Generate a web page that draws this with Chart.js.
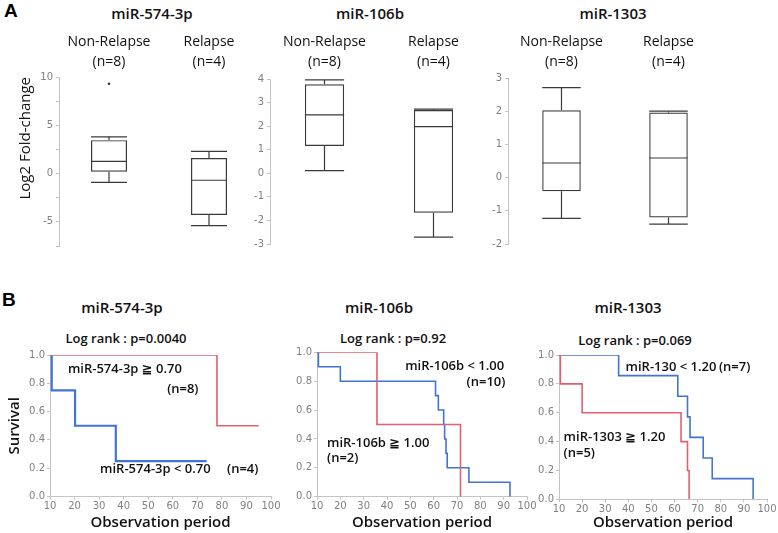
<!DOCTYPE html>
<html lang="en">
<head>
<meta charset="UTF-8">
<title>miRNA fold-change and survival</title>
<style>
  body { margin: 0; background: #fff; font-family: 'Open Sans', sans-serif; }
  #page { position: relative; width: 778px; height: 533px; overflow: hidden; }
  canvas { position: absolute; }
  .t { position: absolute; white-space: nowrap; color: #111; transform: translate(-50%, -50%); }
  .title { font-size: 15px; font-weight: 600; }
  .logrank { font-size: 13px; font-weight: 600; }
  .letter { position: absolute; font-family: Arial, sans-serif; font-weight: bold; font-size: 19px; color: #000; }
</style>
</head>
<body>
<div id="page">
  <div class="letter" style="left:4px; top:0px;">A</div>
  <div class="letter" style="left:2px; top:289px;">B</div>

  <div class="t title" style="left:152px; top:13px;">miR-574-3p</div>
  <div class="t title" style="left:370px; top:13px;">miR-106b</div>
  <div class="t title" style="left:613px; top:13px;">miR-1303</div>

  <div class="t title" style="left:122px; top:307px;">miR-574-3p</div>
  <div class="t title" style="left:379px; top:307px;">miR-106b</div>
  <div class="t title" style="left:628px; top:307px;">miR-1303</div>

  <div class="t logrank" style="left:126px; top:338px;">Log rank : p=0.0040</div>
  <div class="t logrank" style="left:393px; top:338px;">Log rank : p=0.92</div>
  <div class="t logrank" style="left:635px; top:340px;">Log rank : p=0.069</div>

  <canvas id="box574" width="262" height="255" style="left:0px; top:0px;"></canvas>
  <canvas id="box106" width="243" height="253" style="left:250px; top:0px;"></canvas>
  <canvas id="box1303" width="239" height="253" style="left:488px; top:0px;"></canvas>

  <canvas id="km574" width="283" height="248" style="left:0px; top:285px;"></canvas>
  <canvas id="km106" width="264" height="248" style="left:275px; top:285px;"></canvas>
  <canvas id="km1303" width="258" height="248" style="left:520px; top:285px;"></canvas>
</div>

<script src="https://cdn.jsdelivr.net/npm/chart.js"></script>
<script>
// box plot groups
const groupNames = ['Non-Relapse', 'Relapse'];
const groupCounts = ['(n=8)', '(n=4)'];

// miR-574-3p log2 fold-change
const m574Min = [-0.92, -5.4];
const m574Q1 = [0.19, -4.29];
const m574Med = [1.27, -0.69];
const m574Q3 = [3.46, 1.61];
const m574Max = [3.8, 2.29];
const m574Out = [[9.3], []];

// miR-106b
const m106Min = [0.11, -2.71];
const m106Q1 = [1.16, -1.67];
const m106Med = [2.48, 1.98];
const m106Q3 = [3.78, 2.68];
const m106Max = [3.96, 2.72];
const m106Out = [[], []];

// miR-1303
const m1303Min = [-1.23, -1.4];
const m1303Q1 = [-0.41, -1.2];
const m1303Med = [0.44, 0.59];
const m1303Q3 = [2.03, 1.96];
const m1303Max = [2.71, 2.0];
const m1303Out = [[], []];

// Kaplan-Meier curves (time of step, survival after it)
const km574HighT = [10, 78, 95];
const km574HighS = [1, 0.5, 0.5];
const km574LowT = [10, 10.7, 20.2, 36.8, 73.8];
const km574LowS = [1, 0.75, 0.5, 0.25, 0.25];

const km106HighT = [10, 35.7, 71.5];
const km106HighS = [1, 0.5, 0];
const km106LowT = [10, 10.6, 20, 60.8, 62, 64.3, 64.7, 65.3, 65.8, 75.1, 92.7];
const km106LowS = [1, 0.9, 0.8, 0.7, 0.6, 0.5, 0.4, 0.3, 0.2, 0.1, 0];

const km1303HighT = [10, 10.6, 20, 62.8, 65.6, 66.3];
const km1303HighS = [1, 0.8, 0.6, 0.4, 0.2, 0];
const km1303LowT = [10, 35.8, 61.4, 65.6, 66.7, 72.4, 76.3, 94];
const km1303LowS = [1, 0.857, 0.714, 0.571, 0.429, 0.286, 0.143, 0];

const RED = '#e0606f';
const BLUE = '#4275d3';
const AXIS = '#c4c4c4';
const TICK_TXT = '#808080';

Chart.defaults.font.family = "'Open Sans', sans-serif";

// whiskers, median and outliers on top of the floating box bars
const boxPlugin = {
  id: 'boxWhiskers',
  afterDatasetsDraw(chart) {
    const ds = chart.data.datasets[0];
    const y = chart.scales.y;
    const ctx = chart.ctx;
    const line = (x1, y1, x2, y2) => {
      ctx.beginPath(); ctx.moveTo(x1, y1); ctx.lineTo(x2, y2); ctx.stroke();
    };
    ctx.save();
    ctx.strokeStyle = '#3a3a3a';
    ctx.fillStyle = '#333';
    ctx.lineWidth = 1.2;
    chart.getDatasetMeta(0).data.forEach((bar, i) => {
      const h = bar.width / 2;
      const pMin = y.getPixelForValue(ds.whiskerMin[i]);
      const pMax = y.getPixelForValue(ds.whiskerMax[i]);
      const pQ1 = y.getPixelForValue(ds.data[i][0]);
      const pQ3 = y.getPixelForValue(ds.data[i][1]);
      const pMed = y.getPixelForValue(ds.median[i]);
      line(bar.x, pQ3, bar.x, pMax);
      line(bar.x - h, pMax, bar.x + h, pMax);
      line(bar.x, pQ1, bar.x, pMin);
      line(bar.x - h, pMin, bar.x + h, pMin);
      line(bar.x - h, pMed, bar.x + h, pMed);
      ds.outliers[i].forEach(v => {
        ctx.beginPath();
        ctx.arc(bar.x, y.getPixelForValue(v), 1.3, 0, Math.PI * 2);
        ctx.fill();
      });
    });
    ctx.restore();
  }
};

function makeBox(id, s, c) {
  return new Chart(document.getElementById(id), {
    type: 'bar',
    data: {
      labels: groupNames.map((g, i) => [g, groupCounts[i]]),
      datasets: [{
        data: s.q1.map((v, i) => [v, s.q3[i]]),
        whiskerMin: s.min,
        whiskerMax: s.max,
        median: s.med,
        outliers: s.out,
        backgroundColor: 'rgba(255,255,255,0)',
        borderColor: '#3a3a3a',
        borderWidth: 1.2,
        borderSkipped: false,
        barPercentage: 0.72,
        categoryPercentage: 0.5
      }]
    },
    options: {
      responsive: false,
      animation: false,
      events: [],
      layout: { padding: { top: 0, left: 0, right: c.padRight, bottom: 5 } },
      plugins: { legend: { display: false }, tooltip: { enabled: false } },
      scales: {
        x: {
          position: 'top',
          grid: { display: false, drawTicks: false },
          border: { display: false },
          ticks: {
            padding: c.labelPad, color: '#111', maxRotation: 0, autoSkip: false,
            font: { size: 14, lineHeight: '20px' }
          },
          afterFit: sc => { sc.height = c.top; }
        },
        y: {
          min: c.min, max: c.max,
          grid: { drawOnChartArea: false, color: AXIS, tickLength: 3 },
          border: { color: AXIS },
          ticks: {
            stepSize: c.step, padding: 3, color: TICK_TXT,
            font: { family: 'DejaVu Sans', size: 10 },
            callback: v => (Math.abs(v % c.labelEvery) < 1e-9 ? v : '')
          },
          title: c.yTitle ? {
            display: true, text: c.yTitle, align: 'end', color: '#111',
            font: { size: 15 }, padding: { top: 17, bottom: 0 }
          } : { display: false },
          afterFit: sc => { sc.width = c.yWidth; }
        }
      }
    },
    plugins: [boxPlugin]
  });
}

makeBox('box574',
  { min: m574Min, q1: m574Q1, med: m574Med, q3: m574Q3, max: m574Max, out: m574Out },
  { top: 77, labelPad: 5, padRight: 3, yWidth: 59, min: -7.5, max: 10, step: 2.5, labelEvery: 5, yTitle: 'Log2 Fold-change' });
makeBox('box106',
  { min: m106Min, q1: m106Q1, med: m106Med, q3: m106Q3, max: m106Max, out: m106Out },
  { top: 79, labelPad: 7, padRight: 5, yWidth: 20, min: -3, max: 4, step: 1, labelEvery: 1 });
makeBox('box1303',
  { min: m1303Min, q1: m1303Q1, med: m1303Med, q3: m1303Q3, max: m1303Max, out: m1303Out },
  { top: 78, labelPad: 6, padRight: 5, yWidth: 20, min: -2, max: 3, step: 1, labelEvery: 1 });

// text labels placed in data coordinates
function notesPlugin(notes) {
  return {
    id: 'notes',
    afterDatasetsDraw(chart) {
      const ctx = chart.ctx;
      ctx.save();
      ctx.font = "600 13px 'Open Sans', 'DejaVu Sans', sans-serif";
      ctx.fillStyle = '#111';
      ctx.textBaseline = 'middle';
      notes.forEach(n => {
        ctx.fillText(n.text, chart.scales.x.getPixelForValue(n.x), chart.scales.y.getPixelForValue(n.y));
      });
      ctx.restore();
    }
  };
}

const toPoints = (ts, ss) => ts.map((t, i) => ({ x: t, y: ss[i] }));

function makeKM(id, high, low, c) {
  return new Chart(document.getElementById(id), {
    type: 'line',
    data: {
      datasets: [
        { data: high, borderColor: RED, borderWidth: 1.6, stepped: 'before', pointRadius: 0, fill: false },
        { data: low, borderColor: BLUE, borderWidth: c.blueWidth, stepped: 'before', pointRadius: 0, fill: false }
      ]
    },
    options: {
      responsive: false,
      animation: false,
      events: [],
      layout: { padding: { top: c.top, left: 0, right: c.padRight, bottom: 0 } },
      plugins: { legend: { display: false }, tooltip: { enabled: false } },
      scales: {
        x: {
          type: 'linear', min: 10, max: 100,
          grid: { drawOnChartArea: false, color: AXIS, tickLength: 3 },
          border: { color: AXIS },
          ticks: {
            stepSize: 10, padding: 1, color: TICK_TXT, maxRotation: 0, minRotation: 0, autoSkip: false,
            font: { family: 'DejaVu Sans', size: 10 }
          },
          title: { display: true, text: 'Observation period', color: '#111', font: { size: 15, weight: '600' }, padding: { top: 2, bottom: 1 } },
          afterFit: sc => { sc.height = c.xHeight; }
        },
        y: {
          min: 0, max: 1,
          grid: { drawOnChartArea: false, color: AXIS, tickLength: 3 },
          border: { color: AXIS },
          ticks: { stepSize: 0.2, padding: 2, color: TICK_TXT, font: { family: 'DejaVu Sans', size: 10 }, callback: v => v.toFixed(1) },
          title: c.yTitle ? {
            display: true, text: c.yTitle, color: '#111',
            font: { size: 15, weight: '600' }, padding: { top: 6, bottom: 0 }
          } : { display: false },
          afterFit: sc => { sc.width = c.yWidth; }
        }
      }
    },
    plugins: [notesPlugin(c.notes)]
  });
}

makeKM('km574', toPoints(km574HighT, km574HighS), toPoints(km574LowT, km574LowS), {
  top: 70, padRight: 12, xHeight: 36.5, yWidth: 50, blueWidth: 2.2, yTitle: 'Survival',
  notes: [
    { text: 'miR-574-3p ≧ 0.70', x: 17.3, y: 0.90 },
    { text: '(n=8)', x: 57.7, y: 0.76 },
    { text: 'miR-574-3p < 0.70', x: 30.4, y: 0.194 },
    { text: '(n=4)', x: 82.1, y: 0.194 }
  ]
});
makeKM('km106', toPoints(km106HighT, km106HighS), toPoints(km106LowT, km106LowS), {
  top: 67.3, padRight: 12, xHeight: 36.3, yWidth: 42, blueWidth: 1.6,
  notes: [
    { text: 'miR-106b < 1.00', x: 47.8, y: 0.905 },
    { text: '(n=10)', x: 74.1, y: 0.794 },
    { text: 'miR-106b ≧ 1.00', x: 14.3, y: 0.372 },
    { text: '(n=2)', x: 14.3, y: 0.268 }
  ]
});
makeKM('km1303', toPoints(km1303HighT, km1303HighS), toPoints(km1303LowT, km1303LowS), {
  top: 70, padRight: 11, xHeight: 33.7, yWidth: 39, blueWidth: 1.6,
  notes: [
    { text: 'miR-130 < 1.20', x: 38.8, y: 0.917 },
    { text: '(n=7)', x: 79.2, y: 0.917 },
    { text: 'miR-1303 ≧ 1.20', x: 12.0, y: 0.43 },
    { text: '(n=5)', x: 12.0, y: 0.32 }
  ]
});
</script>
</body>
</html>
